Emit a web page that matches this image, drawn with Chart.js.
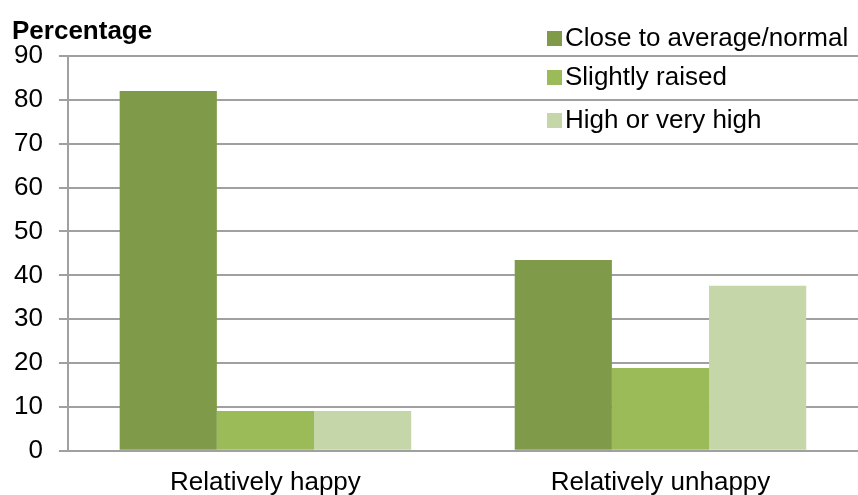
<!DOCTYPE html>
<html>
<head>
<meta charset="utf-8">
<script src="https://cdn.jsdelivr.net/npm/chart.js@4"></script>
<style>
html,body{margin:0;padding:0;background:#fff;}
#wrap{width:858px;height:495px;}
</style>
</head>
<body>
<div id="wrap"><canvas id="c"></canvas></div>
<script>
const categories = ["Relatively happy", "Relatively unhappy"];
const seriesNames = ["Close to average/normal", "Slightly raised", "High or very high"];
const closeToAverage = [82.0, 43.5];
const slightlyRaised = [9.1, 18.9];
const highOrVeryHigh = [9.1, 37.6];
const yTicks = [0, 10, 20, 30, 40, 50, 60, 70, 80, 90];
const yTitle = "Percentage";
const colors = ["#7F9A48", "#9BBB59", "#C5D6A9"];

const FONT = "'Liberation Sans', Arial, sans-serif";
const GRID = "#a0a0a0";

const overlay = {
  id: 'overlay',
  afterDraw(chart) {
    const ctx = chart.ctx;
    ctx.save();
    ctx.fillStyle = '#000';
    ctx.textBaseline = 'alphabetic';
    ctx.font = "bold 26px " + FONT;
    ctx.textAlign = 'left';
    ctx.fillText(yTitle, 12, 39);
    ctx.font = "26px " + FONT;
    const rows = [39, 78, 121];
    chart.data.datasets.forEach((ds, i) => {
      const cy = rows[i];
      ctx.fillStyle = ds.backgroundColor;
      ctx.fillRect(547, cy - 8, 15, 15);
      ctx.fillStyle = '#000';
      ctx.textBaseline = 'middle';
      ctx.fillText(ds.label, 565, cy);
    });
    ctx.restore();
  }
};

new Chart(document.getElementById('c'), {
  type: 'bar',
  data: {
    labels: categories,
    datasets: [
      { label: seriesNames[0], data: closeToAverage, backgroundColor: colors[0] },
      { label: seriesNames[1], data: slightlyRaised, backgroundColor: colors[1] },
      { label: seriesNames[2], data: highOrVeryHigh, backgroundColor: colors[2] }
    ]
  },
  options: {
    responsive: true,
    maintainAspectRatio: false,
    animation: false,
    layout: { padding: { top: 56, left: -2, right: 0, bottom: -19 } },
    datasets: { bar: { categoryPercentage: 0.738, barPercentage: 1.0, borderWidth: 0 } },
    plugins: { legend: { display: false }, tooltip: { enabled: false }, title: { display: false } },
    scales: {
      x: {
        grid: { display: false, drawTicks: false },
        border: { display: true, color: GRID, width: 2 },
        ticks: { color: '#000', font: { family: FONT, size: 26 }, padding: 16, maxRotation: 0 }
      },
      y: {
        min: 0, max: 90,
        afterBuildTicks(scale) { scale.ticks = yTicks.map(v => ({ value: v })); },
        grid: { color: GRID, lineWidth: 2, tickLength: 9, drawTicks: true, tickColor: GRID },
        border: { display: true, color: GRID, width: 2 },
        ticks: { color: '#000', font: { family: FONT, size: 26 }, padding: 16 }
      }
    }
  },
  plugins: [overlay]
});
</script>
</body>
</html>
